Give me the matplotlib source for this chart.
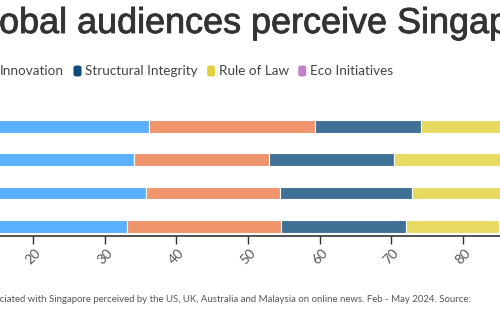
import matplotlib
matplotlib.use("Agg")
import matplotlib.pyplot as plt
import matplotlib.patheffects as pe
from matplotlib.colors import to_rgba
from matplotlib.patches import FancyBboxPatch
import numpy as np

# Share of themes (%) per audience, stacked left to right
countries = ["US", "UK", "Australia", "Malaysia"]
themes = ["Economy", "Innovation", "Structural Integrity", "Rule of Law", "Eco Initiatives"]
economy = [36.2, 34.1, 35.8, 33.1]
innovation = [23.2, 18.8, 18.7, 21.5]
structural = [14.7, 17.5, 18.4, 17.4]
rule_of_law = [13.9, 16.6, 16.1, 13.0]
eco = [12.0, 13.0, 11.0, 15.0]
ticks = [20, 30, 40, 50, 60, 70, 80]

colors = ["#319DFF", "#EC7A47", "#0F4C7C", "#E3D03C", "#C17FC6"]
series = [economy, innovation, structural, rule_of_law, eco]

W, H = 500, 330
fig = plt.figure(figsize=(W / 100, H / 100), dpi=100)
fig.patch.set_facecolor("white")

ui_font = "Lato"

# ---------------------------------------------------------
# Bars
# ---------------------------------------------------------
ax = fig.add_axes([-110.3 / W, 94 / H, 716.7 / W, 126.3 / H])
ypos = np.arange(len(countries))[::-1]
left = np.zeros(len(countries))
for vals, col in zip(series, colors):
    ax.barh(ypos, vals, left=left, height=0.38,
            color=to_rgba(col, 0.8), edgecolor="white", linewidth=0.8)
    left += np.array(vals)

ax.set_xlim(0, 100)
ax.set_ylim(-0.29, 3.5)
ax.set_xticks(ticks)
ax.set_xticklabels([str(t) for t in ticks], rotation=45, fontsize=9.8,
                   color="#555555", family=ui_font)
ax.set_yticks([])
ax.tick_params(axis="x", length=6, width=1, color="#333333", pad=2)
for s in ["top", "right", "left"]:
    ax.spines[s].set_visible(False)
ax.spines["bottom"].set_color("#333333")
ax.spines["bottom"].set_linewidth(1.2)

fig.canvas.draw()
renderer = fig.canvas.get_renderer()

def text_width(s, **kw):
    t = fig.text(0, 0, s, **kw)
    w = t.get_window_extent(renderer).width
    t.remove()
    return w

# ---------------------------------------------------------
# Title
# ---------------------------------------------------------
title_kw = dict(fontsize=25.9, family="Liberation Sans")
prefix_w = text_width("How gl", **title_kw)
fig.text((-prefix_w - 1) / W, 1 - 33 / H, "How global audiences perceive Singapore",
         color="#333333", ha="left", va="baseline",
         path_effects=[pe.withStroke(linewidth=0.6, foreground="#333333")],
         **title_kw)

# ---------------------------------------------------------
# Legend (drawn by hand so entries sit in one row)
# ---------------------------------------------------------
leg_y = 1 - 71 / H
mw, mh = 8, 11
leg_fs = 9.75

def legend_entry(x, label, col):
    fig.patches.append(FancyBboxPatch(
        (x / W, leg_y - mh / 2 / H), mw / W, mh / H,
        boxstyle="round,pad=0,rounding_size=0.006",
        transform=fig.transFigure, facecolor=col, edgecolor="none"))
    t = fig.text((x + mw + 3.5) / W, leg_y, label, fontsize=leg_fs,
                 color="#444444", family=ui_font, ha="left", va="center")
    bb = t.get_window_extent(renderer)
    return bb.x1 + 9.5

# first entry sits to the left of "Innovation"
w0 = text_width(themes[0], fontsize=leg_fs, family=ui_font)
x = -11.5 - 9.5 - w0 - 3.5 - mw
x = legend_entry(x, themes[0], colors[0])
for label, col in zip(themes[1:], colors[1:]):
    x = legend_entry(x, label, col)

# ---------------------------------------------------------
# Caption
# ---------------------------------------------------------
fig.text(471 / W, 1 - 300 / H,
         "Share of themes associated with Singapore perceived by the US, UK, "
         "Australia and Malaysia on online news. Feb - May 2024. Source:",
         fontsize=6.9, color="#555555", family=ui_font, ha="right", va="center")

fig.savefig("out.png", dpi=100)
